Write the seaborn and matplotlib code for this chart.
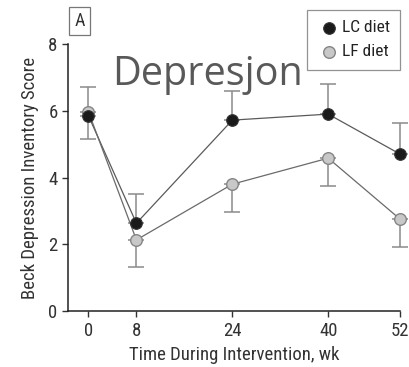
import matplotlib
matplotlib.use("Agg")
import matplotlib.pyplot as plt
import seaborn as sns
import pandas as pd
from matplotlib import font_manager

weeks = [0, 8, 24, 40, 52]
lc_mean = [5.85, 2.63, 5.72, 5.9, 4.7]
lc_err = [0.85, 0.87, 0.88, 0.9, 0.93]
lf_mean = [5.97, 2.13, 3.8, 4.58, 2.75]
lf_err = [0.82, 0.81, 0.84, 0.84, 0.83]
x_ticks = [0, 8, 24, 40, 52]
y_ticks = [0, 2, 4, 6, 8]

sns.set_style("ticks")
names = {f.name for f in font_manager.fontManager.ttflist}
narrow = [n for n in ["Liberation Sans Narrow", "Arial Narrow", "Roboto Condensed",
                      "DejaVu Sans Condensed"] if n in names]
plt.rcParams['font.family'] = narrow + ['DejaVu Sans']
plt.rcParams['font.stretch'] = 'condensed'

df = pd.DataFrame({
    "week": weeks * 2,
    "score": lc_mean + lf_mean,
    "diet": ["LC diet"] * 5 + ["LF diet"] * 5,
})

fig = plt.figure(figsize=(4.1, 3.67), dpi=100)
ax = fig.add_axes([0.166, 0.1526, 0.81, 0.7274])

# error bars (LC upward, LF downward)
ax.errorbar(weeks, lc_mean, yerr=[[0] * 5, lc_err], fmt="none", ecolor="#8a8a8a",
            elinewidth=1.1, capsize=6, capthick=1.1, zorder=1, clip_on=False)
ax.errorbar(weeks, lf_mean, yerr=[lf_err, [0] * 5], fmt="none", ecolor="#8a8a8a",
            elinewidth=1.1, capsize=6, capthick=1.1, zorder=1, clip_on=False)

sns.lineplot(data=df, x="week", y="score", hue="diet", ax=ax,
             palette={"LC diet": "#5a5a5a", "LF diet": "#6a6a6a"},
             linewidth=0.9, legend=False, zorder=2)
for line in ax.lines:
    line.set_clip_on(False)

ax.scatter(weeks, lc_mean, s=70, color="#1a1a1a", edgecolor="#333333", linewidth=0.8,
           zorder=4, clip_on=False, label="LC diet")
ax.scatter(weeks, lf_mean, s=70, color="#c8c8c8", edgecolor="#858585", linewidth=1.0,
           zorder=3, clip_on=False, label="LF diet")

ax.set_xlim(-3.4, 52)
ax.set_ylim(0, 8)
ax.set_xticks(x_ticks)
ax.set_yticks(y_ticks)
ax.tick_params(labelsize=13.5, colors="#333333", width=1, length=4, direction="out")
ax.tick_params(axis="x", pad=4)
for s in ["top", "right"]:
    ax.spines[s].set_visible(False)
for s in ["left", "bottom"]:
    ax.spines[s].set_color("#222222")
    ax.spines[s].set_linewidth(1.1)

ax.set_xlabel("Time During Intervention, wk", fontsize=13.5, color="#333333", labelpad=4)
ax.set_ylabel("Beck Depression Inventory Score", fontsize=13.5, color="#333333", labelpad=7)

leg = ax.legend(loc="upper right", bbox_to_anchor=(0.976, 0.973), bbox_transform=fig.transFigure,
                borderaxespad=0, frameon=True,
                fontsize=12.5, handletextpad=0.1, borderpad=0.6, labelspacing=0.5,
                handlelength=1.3, fancybox=False, markerscale=1.0)
leg.get_frame().set_edgecolor("#777777")
leg.get_frame().set_linewidth(0.9)
for t in leg.get_texts():
    t.set_color("#222222")

fig.text(0.194, 0.943, "A", fontsize=13, color="#333333", ha="center", va="center",
         bbox=dict(boxstyle="square,pad=0.3", facecolor="white", edgecolor="#777777", linewidth=0.9))

fig.text(0.273, 0.797, "Depresjon", fontsize=28.5, color="#595959", ha="left", va="center",
         family=["Open Sans", "DejaVu Sans"], stretch="normal")

fig.savefig("out.png", dpi=100)
